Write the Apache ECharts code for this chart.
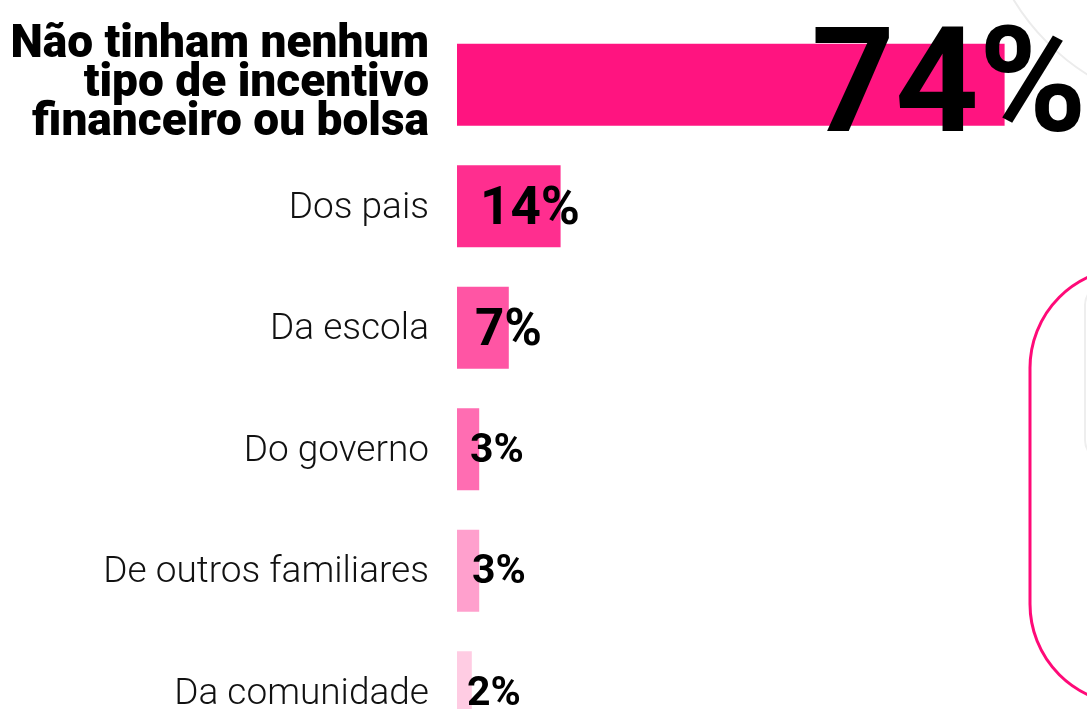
<!DOCTYPE html>
<html>
<head>
<meta charset="utf-8">
<script src="https://cdn.jsdelivr.net/npm/echarts@6/dist/echarts.min.js"></script>
<style>
  html, body { margin: 0; padding: 0; background: #fff; }
  #chart { width: 1087px; height: 709px; }
</style>
</head>
<body>
<div id="chart"></div>
<script>
const categories = [
  'Não tinham nenhum\ntipo de incentivo\nfinanceiro ou bolsa',
  'Dos pais',
  'Da escola',
  'Do governo',
  'De outros familiares',
  'Da comunidade'
]
const values = [74, 14, 7, 3, 3, 2]
const barColors = ['#FF1480', '#FF2E8F', '#FF55A4', '#FF6DB2', '#FFA0CD', '#FFCCE3']

// label nudges and sizes so the numbers sit like in the original
const labelOffsets = [[87, 10], [18, 4], [13, 4], [8, 2], [10, 2], [5, 2]]
const labelSizes = [146, 53, 51, 41, 41, 41]

const chart = echarts.init(document.getElementById('chart'))

const data = values.map((v, i) => ({
  value: v,
  itemStyle: { color: barColors[i] },
  label: {
    position: i === 0 ? 'insideRight' : 'insideLeft',
    fontSize: labelSizes[i],
    offset: labelOffsets[i]
  }
}))

chart.setOption({
  backgroundColor: '#fff',
  animation: false,
  grid: { left: 457, top: 24, width: 740, height: 729, outerBoundsMode: 'none' },
  xAxis: { type: 'value', min: 0, max: 100, show: false },
  yAxis: {
    type: 'category',
    inverse: true,
    data: categories,
    axisLine: { show: false },
    axisTick: { show: false },
    axisLabel: {
      margin: 28,
      formatter: (value, index) => index === 0
        ? value.split('\n').map((line) => `{big|${line}}`).join('\n')
        : `{norm|${value}}`,
      rich: {
        big: {
          fontFamily: 'Roboto',
          fontWeight: 900,
          fontSize: 46,
          lineHeight: 39,
          color: '#000'
        },
        norm: {
          fontFamily: 'Roboto',
          fontWeight: 300,
          fontSize: 37,
          color: '#111',
          padding: [4, 0, 0, 0]
        }
      }
    }
  },
  series: [{
    type: 'bar',
    barWidth: 82,
    data,
    label: {
      show: true,
      formatter: '{c}%',
      fontFamily: 'Roboto',
      fontWeight: 'bold',
      color: '#000'
    }
  }],
  graphic: [
    {
      type: 'circle',
      shape: { cx: 1210, cy: -120, r: 230 },
      style: { fill: 'none', stroke: '#ececec', lineWidth: 2 },
      z: -1
    },
    {
      type: 'rect',
      shape: { x: 1030, y: 268, width: 200, height: 436, r: 110 },
      style: { fill: 'none', stroke: '#FF0A78', lineWidth: 3 }
    },
    {
      type: 'rect',
      shape: { x: 1085, y: 285, width: 60, height: 175, r: 20 },
      style: { fill: 'none', stroke: '#eeeeee', lineWidth: 2 }
    }
  ]
})
</script>
</body>
</html>
